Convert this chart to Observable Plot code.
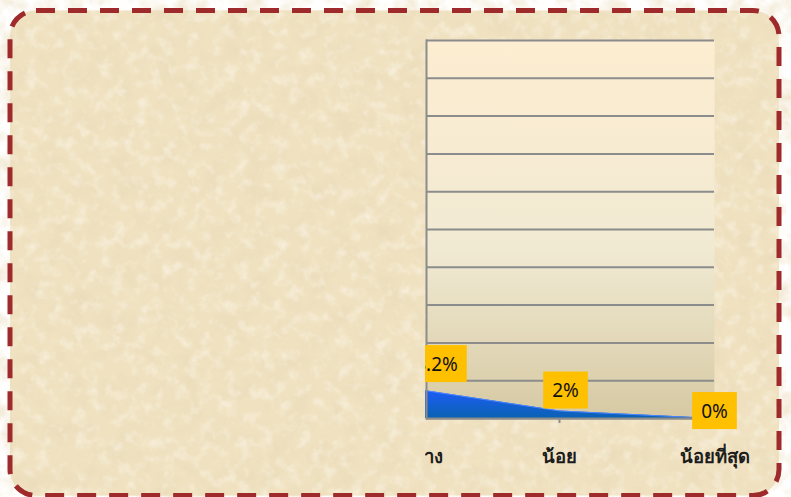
<!DOCTYPE html>
<html><head><meta charset="utf-8">
<script src="https://cdn.jsdelivr.net/npm/d3@7"></script>
<script src="https://cdn.jsdelivr.net/npm/@observablehq/plot@0.6"></script>
<style>
html,body{margin:0;padding:0;background:#fff;}
#wrap{position:relative;width:791px;height:497px;overflow:hidden;}
#wrap > svg{position:absolute;left:0;top:0;}
</style></head><body><div id="wrap"></div>
<script>
// ---- data ----
const categories = ["ปานกลาง", "น้อย", "น้อยที่สุด"];
const percents = [8.2, 2, 0];
const valueLabels = ["8.2%", "2%", "0%"];
const yTicks = [0, 10, 20, 30, 40, 50, 60, 70, 80, 90, 100];
const tickedCategories = ["น้อย"];

const data = categories.map((c, i) => ({cat: c, v: percents[i], label: valueLabels[i], i}));

const W = 791, H = 497;
const wrap = document.getElementById("wrap");
const NS = "http://www.w3.org/2000/svg";
const border = "M36,10.5 H753 A26,26 0 0 1 779,36.5 V469.5 A26,26 0 0 1 753,495.5 H36 A26,26 0 0 1 10,469.5 V36.5 A26,26 0 0 1 36,10.5 Z";

const paper = `
  <path d="${border}" fill="#f0e2c1"/>
  <path d="${border}" fill="#000" filter="url(#paperDark)"/>
  <path d="${border}" fill="#000" filter="url(#paperLight)"/>`;

// background layer
const bg = document.createElementNS(NS, "svg");
bg.setAttribute("width", W); bg.setAttribute("height", H);
bg.innerHTML = `
<defs>
  <filter id="paperDark" filterUnits="userSpaceOnUse" x="0" y="0" width="${W}" height="${H}">
    <feTurbulence type="fractalNoise" baseFrequency="0.045" numOctaves="4" seed="7"/>
    <feColorMatrix type="matrix" values="0 0 0 0 0.82  0 0 0 0 0.70  0 0 0 0 0.48  1.6 0 0 0 -0.68"/>
  </filter>
  <filter id="paperLight" filterUnits="userSpaceOnUse" x="0" y="0" width="${W}" height="${H}">
    <feTurbulence type="fractalNoise" baseFrequency="0.08" numOctaves="3" seed="21"/>
    <feColorMatrix type="matrix" values="0 0 0 0 0.99  0 0 0 0 0.96  0 0 0 0 0.88  1.3 0 0 0 -0.64"/>
  </filter>
  <linearGradient id="plotBg" x1="0" y1="0" x2="0" y2="1">
    <stop offset="0" stop-color="#fdedd1"/>
    <stop offset="0.55" stop-color="#f1ead3"/>
    <stop offset="1" stop-color="#d6c9a3"/>
  </linearGradient>
  <linearGradient id="areaFill" x1="0" y1="0" x2="0" y2="1">
    <stop offset="0" stop-color="#1f5cff"/>
    <stop offset="1" stop-color="#0a62b2"/>
  </linearGradient>
  <clipPath id="cardClip"><path d="${border}"/></clipPath>
</defs>
${paper}`;
wrap.appendChild(bg);

const font = "'Noto Sans', 'DejaVu Sans', sans-serif";

const plot = Plot.plot({
  width: W, height: H,
  marginLeft: 426, marginRight: 77, marginTop: 40, marginBottom: 79,
  style: {background: "transparent", fontFamily: font, overflow: "visible"},
  x: {type: "point", domain: categories, range: [404, 714], padding: 0, axis: null, label: null},
  y: {domain: [0, 100], range: [418, 40], axis: null},
  marks: [
    Plot.frame({fill: "url(#plotBg)", stroke: null}),
    Plot.ruleY(yTicks, {stroke: "#8c8c8c", strokeWidth: 2}),
    Plot.areaY(data, {x: "cat", y: "v", fill: "url(#areaFill)"}),
    Plot.lineY(data, {x: "cat", y: "v", stroke: "#4d86ff", strokeWidth: 1}),
    Plot.frame({anchor: "left", stroke: "#8c8c8c", strokeWidth: 2}),
    Plot.ruleY([0], {stroke: "#8c8c8c", strokeWidth: 2}),
    Plot.axisX({ticks: tickedCategories, tickSize: 5, tickFormat: () => "", label: null, stroke: "#8c8c8c", strokeWidth: 2}),
    Plot.text(categories, {x: d => d, frameAnchor: "bottom", dy: 39, fontSize: 18.5, fontWeight: "bold", fill: "#1c1c1c", lineAnchor: "middle"}),
    Plot.text(data.filter(d => d.i === 0), {x: "cat", y: "v", text: "label", dx: 32, dy: -23, fontSize: 19, fill: "#111", className: "vlabel"}),
    Plot.text(data.filter(d => d.i > 0 && d.v > 0), {x: "cat", y: "v", text: "label", dx: 6, dy: -20, fontSize: 19, fill: "#111", className: "vlabel"}),
    Plot.text(data.filter(d => d.i > 0 && d.v === 0), {x: "cat", y: "v", text: "label", dy: -7, fontSize: 19, fill: "#111", className: "vlabel"})
  ]
});
wrap.appendChild(plot);

// gold label boxes behind value labels
plot.querySelectorAll("g.vlabel text").forEach(t => {
  const bb = t.getBBox();
  const r = document.createElementNS(NS, "rect");
  const px = 9;
  r.setAttribute("x", bb.x - px);
  r.setAttribute("y", bb.y + bb.height / 2 - 18.5);
  r.setAttribute("width", bb.width + 2 * px);
  r.setAttribute("height", 37);
  r.setAttribute("fill", "#ffc000");
  const tr = t.getAttribute("transform");
  if (tr) r.setAttribute("transform", tr);
  t.parentNode.insertBefore(r, t);
});

// overlay: parchment covering the left part, plus dashed border
const ov = document.createElementNS(NS, "svg");
ov.setAttribute("width", W); ov.setAttribute("height", H);
ov.innerHTML = `
<g clip-path="url(#cardClip)">
  <svg x="0" y="0" width="425" height="${H}" overflow="hidden">${paper}</svg>
</g>
<path d="${border}" fill="none" stroke="#9e2a2b" stroke-width="5" stroke-dasharray="19 13"/>`;
wrap.appendChild(ov);
</script>
</body></html>
